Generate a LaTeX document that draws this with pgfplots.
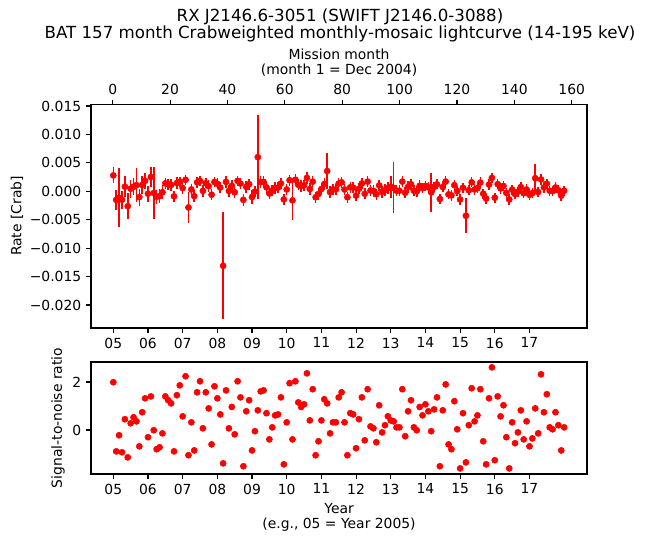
\documentclass[border=0pt]{standalone}
\usepackage{fontspec}
\setmainfont{DejaVu Sans}
\usepackage{pgfplots}
\usepackage{pgfplotstable}
\pgfplotsset{compat=1.18}

% month, rate [Crab], error, signal-to-noise
\pgfplotstableread{
m r e s
1 0.00279 0.0014 1.99
2 -0.00151 0.0017 -0.89
3 -0.00114 0.0052 -0.22
4 -0.00149 0.0016 -0.93
5 0.00081 0.0018 0.45
6 -0.00262 0.0023 -1.14
7 0.00045 0.0016 0.28
8 0.00080 0.0015 0.53
9 0.00108 0.0030 0.36
10 -0.00102 0.0015 -0.68
11 0.00111 0.0015 0.74
12 0.00185 0.0014 1.32
13 -0.00042 0.0014 -0.30
14 0.00252 0.0018 1.40
15 -0.00030 0.0046 -0.01
16 -0.00096 0.0012 -0.80
17 -0.00086 0.0012 -0.72
18 -0.00017 0.0012 -0.14
19 0.00140 0.0010 1.40
20 0.00124 0.0010 1.24
21 0.00111 0.0010 1.11
22 -0.00089 0.0010 -0.89
23 0.00145 0.0010 1.45
24 0.00167 0.0009 1.86
25 0.00057 0.0010 0.57
26 0.00202 0.0009 2.24
27 -0.00284 0.0027 -1.05
28 0.00032 0.0010 0.32
29 -0.00085 0.0010 -0.85
30 0.00157 0.0010 1.57
31 0.00183 0.0009 2.03
32 0.00007 0.0010 0.07
33 0.00141 0.0009 1.57
34 0.00090 0.0010 0.90
35 -0.00060 0.0010 -0.60
36 0.00164 0.0009 1.82
37 0.00132 0.0010 1.32
38 0.00065 0.0010 0.65
39 -0.01310 0.0094 -1.39
40 0.00165 0.0010 1.65
41 0.00007 0.0010 0.07
42 0.00096 0.0010 0.96
43 -0.00018 0.0010 -0.18
44 0.00183 0.0009 2.03
45 0.00136 0.0010 1.36
46 -0.00151 0.0010 -1.51
47 0.00078 0.0010 0.78
48 0.00124 0.0010 1.24
49 -0.00102 0.0012 -0.85
50 -0.00005 0.0010 -0.05
51 0.00600 0.0074 0.82
52 0.00161 0.0010 1.61
53 0.00165 0.0010 1.65
54 0.00070 0.0010 0.70
55 -0.00039 0.0010 -0.39
56 0.00011 0.0010 0.11
57 0.00061 0.0010 0.61
58 0.00065 0.0010 0.65
59 0.00136 0.0010 1.36
60 -0.00143 0.0010 -1.43
61 0.00032 0.0010 0.32
62 0.00195 0.0010 1.95
63 -0.00160 0.0035 -0.39
64 0.00203 0.0010 2.03
65 0.00115 0.0010 1.15
66 0.00096 0.0010 0.96
67 0.00107 0.0010 1.07
68 0.00236 0.0010 2.36
69 0.00040 0.0010 0.40
70 0.00170 0.0010 1.70
71 -0.00105 0.0010 -1.05
72 -0.00047 0.0010 -0.47
73 0.00040 0.0010 0.40
74 0.00128 0.0010 1.28
75 0.00355 0.0032 1.11
76 -0.00014 0.0010 -0.14
77 0.00032 0.0010 0.32
78 0.00032 0.0010 0.32
79 0.00136 0.0010 1.36
80 0.00157 0.0010 1.57
81 0.00032 0.0010 0.32
82 -0.00105 0.0010 -1.05
83 0.00070 0.0010 0.70
84 0.00065 0.0010 0.65
85 -0.00076 0.0010 -0.76
86 0.00045 0.0010 0.45
87 0.00136 0.0010 1.36
88 -0.00043 0.0010 -0.43
89 0.00170 0.0010 1.70
90 0.00015 0.0010 0.15
91 0.00007 0.0010 0.07
92 -0.00051 0.0010 -0.51
93 0.00103 0.0010 1.03
94 -0.00010 0.0010 -0.10
95 0.00020 0.0010 0.20
96 0.00057 0.0010 0.57
97 0.00076 0.0019 0.40
98 0.00060 0.0045 0.36
99 0.00011 0.0010 0.11
100 0.00011 0.0010 0.11
101 0.00170 0.0010 1.70
102 -0.00026 0.0010 -0.26
103 0.00078 0.0010 0.78
104 0.00124 0.0010 1.24
105 0.00011 0.0010 0.11
106 -0.00001 0.0010 -0.01
107 0.00096 0.0010 0.96
108 0.00055 0.0009 0.61
109 0.00096 0.0009 1.07
110 0.00070 0.0009 0.78
111 -0.00020 0.0034 -0.05
112 0.00077 0.0009 0.86
113 0.00122 0.0009 1.36
114 -0.00136 0.0009 -1.51
115 0.00074 0.0009 0.82
116 0.00171 0.0009 1.90
117 -0.00054 0.0009 -0.60
118 -0.00072 0.0009 -0.80
119 0.00108 0.0009 1.20
120 0.00003 0.0009 0.03
121 -0.00144 0.0009 -1.60
122 0.00063 0.0009 0.70
123 -0.00430 0.0031 -1.35
124 0.00018 0.0009 0.20
125 0.00157 0.0009 1.74
126 0.00032 0.0009 0.36
127 0.00055 0.0009 0.61
128 0.00153 0.0009 1.70
129 -0.00042 0.0009 -0.47
130 -0.00129 0.0009 -1.43
131 0.00119 0.0009 1.32
132 0.00235 0.0009 2.61
133 -0.00113 0.0009 -1.26
134 0.00126 0.0009 1.40
135 0.00051 0.0009 0.57
136 0.00093 0.0009 1.03
137 -0.00027 0.0009 -0.30
138 -0.00144 0.0009 -1.60
139 0.00029 0.0009 0.32
140 -0.00050 0.0009 -0.55
141 -0.00009 0.0009 -0.10
142 0.00074 0.0009 0.82
143 -0.00035 0.0009 -0.39
144 0.00032 0.0009 0.36
145 -0.00061 0.0009 -0.68
146 -0.00032 0.0009 -0.35
147 0.00230 0.0025 0.90
148 -0.00013 0.0009 -0.14
149 0.00209 0.0009 2.32
150 0.00067 0.0009 0.74
151 0.00134 0.0009 1.49
152 0.00010 0.0009 0.11
153 0.00003 0.0009 0.03
154 0.00067 0.0009 0.74
155 0.00018 0.0009 0.20
156 -0.00077 0.0009 -0.85
157 0.00010 0.0009 0.11
}\lc

\pgfplotsset{
  batax/.style={
    width=357.12pt, scale only axis,
    xmin=-6.72, xmax=164.91,
    tick align=outside, major tick length=3.5pt,
    xtick pos=bottom, ytick pos=left,
    axis line style={line width=0.8pt},
    every tick/.style={black, line width=0.8pt},
    tick label style={font=\fontsize{10}{12}\selectfont},
    /pgf/number format/assume math mode=true,
    scaled y ticks=false, scaled x ticks=false,
    xtick={1,13,25,37,49,61,73,85,97,109,121,133,145},
    xticklabels={05,06,07,08,09,10,11,12,13,14,15,16,17},
  },
}

\begin{document}
\begin{tikzpicture}
\useasboundingbox (-65.52pt,75.24pt) rectangle (399.6pt,-315.72pt);

% light curve
\begin{axis}[batax, height=160.92pt, at={(0pt,0pt)}, anchor=north west,
  ymin=-0.02404, ymax=0.01526,
  ytick={-0.02,-0.015,-0.01,-0.005,0,0.005,0.01,0.015},
  yticklabels={−0.020,−0.015,−0.010,−0.005,0.000,0.005,0.010,0.015},
]
\addplot[red, only marks, mark=*, mark size=2.2pt,
  error bars/.cd, y dir=both, y explicit, error mark=none,
  error bar style={line width=1.1pt, red}]
  table[x=m, y=r, y error=e] {\lc};
\end{axis}

% mission month axis on top
\begin{axis}[width=357.12pt, height=160.92pt, scale only axis,
  at={(0pt,0pt)}, anchor=north west,
  xmin=-7.56, xmax=165.32, ymin=0, ymax=1,
  axis x line*=top, axis y line=none,
  tick align=outside, major tick length=3.5pt,
  axis line style={line width=0.8pt},
  every tick/.style={black, line width=0.8pt},
  tick label style={font=\fontsize{10}{12}\selectfont},
  /pgf/number format/assume math mode=true,
  scaled x ticks=false,
  xtick={0,20,...,160},
]
\end{axis}

% signal to noise
\begin{axis}[batax, height=80.64pt, at={(0pt,-185.4pt)}, anchor=north west,
  ymin=-1.833, ymax=2.833, ytick={0,2},
]
\addplot[red, only marks, mark=*, mark size=2.2pt]
  table[x=m, y=s] {\lc};
\end{axis}

\node[font=\fontsize{12}{14}\selectfont] at (179.3pt,63.0pt) {RX J2146.6-3051 (SWIFT J2146.0-3088)};
\node[font=\fontsize{12}{14}\selectfont] at (179.3pt,50.8pt) {BAT 157 month Crabweighted monthly-mosaic lightcurve (14-195 keV)};
\node at (178.6pt,36.4pt) {Mission month};
\node at (178.6pt,24.8pt) {(month 1 = Dec 2004)};
\node[rotate=90] at (-53.3pt,-80.3pt) {Rate [Crab]};
\node[rotate=90] at (-23.8pt,-225.7pt) {Signal-to-noise ratio};
\node at (178.6pt,-291.2pt) {Year};
\node at (178.6pt,-302.8pt) {(e.g., 05 = Year 2005)};
\end{tikzpicture}
\end{document}
